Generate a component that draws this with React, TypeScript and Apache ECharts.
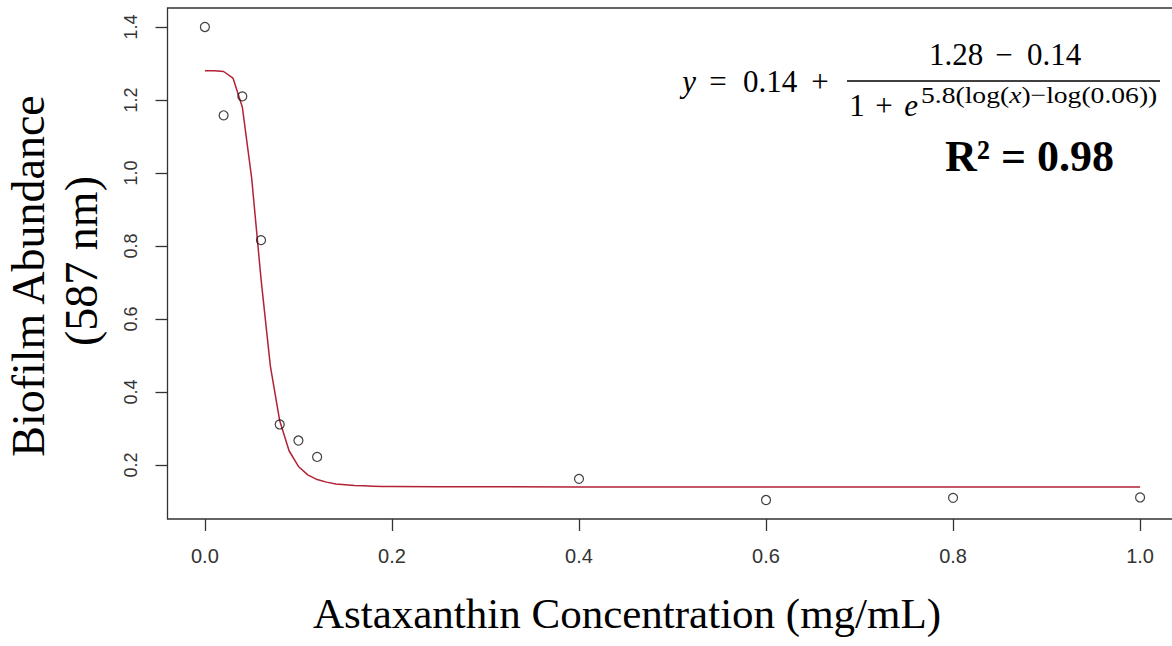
import React, { useEffect, useRef } from "react";
import * as echarts from "echarts";

// Observed data points (Astaxanthin concentration mg/mL vs biofilm abundance)
const concentrations = [0, 0.02, 0.04, 0.06, 0.08, 0.1, 0.12, 0.4, 0.6, 0.8, 1.0];
const abundance = [1.4, 1.158, 1.21, 0.816, 0.311, 0.267, 0.222, 0.162, 0.104, 0.11, 0.111];

// Fitted curve values
const curveX = [0, 0.01, 0.02, 0.03, 0.04, 0.05, 0.06, 0.07, 0.08, 0.09, 0.1, 0.11, 0.12, 0.13, 0.14, 0.15, 0.16, 0.17, 0.18, 0.19, 0.2, 0.25, 0.3, 0.4, 0.5, 0.6, 0.7, 0.8, 0.9, 1.0];
const curveY = [1.28, 1.28, 1.278, 1.26, 1.181, 0.986, 0.71, 0.471, 0.321, 0.239, 0.196, 0.173, 0.16, 0.153, 0.148, 0.146, 0.144, 0.143, 0.142, 0.141, 0.141, 0.1405, 0.1403, 0.14, 0.14, 0.14, 0.14, 0.14, 0.14, 0.14];

const xTicks = [0, 0.2, 0.4, 0.6, 0.8, 1.0];
const yTicks = [0.2, 0.4, 0.6, 0.8, 1.0, 1.2, 1.4];

const xTitle = "Astaxanthin Concentration (mg/mL)";
const yTitle1 = "Biofilm Abundance";
const yTitle2 = "(587 nm)";
const r2Text = "R\u00B2 = 0.98";

const serif = "'Liberation Serif', 'Times New Roman', serif";
const sans = "'Liberation Sans', Arial, sans-serif";

function tok(text: string, cx: number, cy: number, fs: number, italic = false, align = "center") {
  return {
    type: "text",
    x: cx,
    y: cy,
    style: {
      text,
      fontFamily: serif,
      fontSize: fs,
      fontStyle: italic ? "italic" : "normal",
      fill: "#000",
      align,
      verticalAlign: "middle",
    },
  };
}

export default function App() {
  const ref = useRef<HTMLDivElement>(null);
  useEffect(() => {
    if (!ref.current) return;
    const chart = echarts.init(ref.current, null, { renderer: "svg" });
    const M = 31; // main math font size
    const S = 24; // superscript font size
    const row1 = 81.5;
    const numY = 54.5;
    const denY = 105.5;
    const supY = 95;
    chart.setOption({
      animation: false,
      backgroundColor: "#ffffff",
      grid: {
        show: true,
        left: 167.5,
        top: 8,
        width: 1010,
        height: 511,
        borderColor: "#333",
        borderWidth: 1.3,
        backgroundColor: "transparent",
        containLabel: false,
        outerBoundsMode: "none",
      },
      xAxis: {
        type: "value",
        min: -0.04,
        max: 1.04,
        axisLine: { show: false, onZero: false },
        splitLine: { show: false },
        axisTick: {
          show: true,
          length: 12,
          inside: false,
          customValues: xTicks,
          lineStyle: { color: "#333", width: 1.3 },
        },
        axisLabel: {
          customValues: xTicks,
          formatter: (v: number) => v.toFixed(1),
          margin: 27,
          fontSize: 20,
          fontFamily: sans,
          color: "#333",
        },
      },
      yAxis: {
        type: "value",
        min: 0.052,
        max: 1.452,
        axisLine: { show: false, onZero: false },
        splitLine: { show: false },
        axisTick: {
          show: true,
          length: 12,
          inside: false,
          customValues: yTicks,
          lineStyle: { color: "#333", width: 1.3 },
        },
        axisLabel: {
          customValues: yTicks,
          formatter: (v: number) => v.toFixed(1),
          rotate: 90,
          margin: 28,
          fontSize: 18,
          fontFamily: sans,
          color: "#333",
        },
      },
      series: [
        {
          type: "line",
          data: curveX.map((x, i) => [x, curveY[i]]),
          showSymbol: false,
          smooth: false,
          lineStyle: { color: "#b22234", width: 1.5 },
          z: 2,
        },
        {
          type: "scatter",
          data: concentrations.map((x, i) => [x, abundance[i]]),
          symbol: "circle",
          symbolSize: 9,
          itemStyle: { color: "rgba(0,0,0,0)", borderColor: "#111", borderWidth: 1.2 },
          z: 3,
        },
      ],
      graphic: [
        {
          type: "text",
          x: 627,
          y: 613,
          style: {
            text: xTitle,
            fontFamily: serif,
            fontSize: 43,
            fill: "#000",
            align: "center",
            verticalAlign: "middle",
          },
        },
        {
          type: "text",
          x: 28,
          y: 276,
          rotation: Math.PI / 2,
          style: {
            text: yTitle1,
            fontFamily: serif,
            fontSize: 46,
            fill: "#000",
            align: "center",
            verticalAlign: "middle",
          },
        },
        {
          type: "text",
          x: 81,
          y: 261,
          rotation: Math.PI / 2,
          style: {
            text: yTitle2,
            fontFamily: serif,
            fontSize: 46,
            fill: "#000",
            align: "center",
            verticalAlign: "middle",
          },
        },
        // y = 0.14 +
        tok("y", 689, row1, M, true),
        tok("=", 718, row1, M),
        tok("0.14", 770, row1, M),
        tok("+", 820, row1, M),
        // numerator
        tok("1.28", 956, numY, M),
        tok("\u2212", 1004, numY, M),
        tok("0.14", 1054, numY, M),
        {
          type: "line",
          shape: { x1: 847, y1: 81, x2: 1160, y2: 81 },
          style: { stroke: "#000", lineWidth: 1.6 },
        },
        // denominator
        tok("1", 857, denY, M),
        tok("+", 884, denY, M),
        tok("e", 911, denY, M, true),
        // exponent
        {
          type: "text",
          x: 921,
          y: supY,
          scaleX: 1.15,
          style: {
            text: "{n|5.8(log(}{i|x}{n|)\u2212log(0.06))}",
            align: "left",
            verticalAlign: "middle",
            rich: {
              n: { fontFamily: serif, fontSize: S, fill: "#000" },
              i: { fontFamily: serif, fontSize: S, fontStyle: "italic", fill: "#000" },
            },
          },
        },
        {
          type: "text",
          x: 945,
          y: 156,
          style: {
            text: r2Text,
            fontFamily: serif,
            fontWeight: "bold",
            fontSize: 44,
            fill: "#000",
            align: "left",
            verticalAlign: "middle",
          },
        },
      ],
    });
    return () => chart.dispose();
  }, []);
  return (
    <div
      ref={ref}
      style={{ position: "fixed", left: 0, top: 0, width: 1172, height: 646, background: "#fff" }}
    />
  );
}
